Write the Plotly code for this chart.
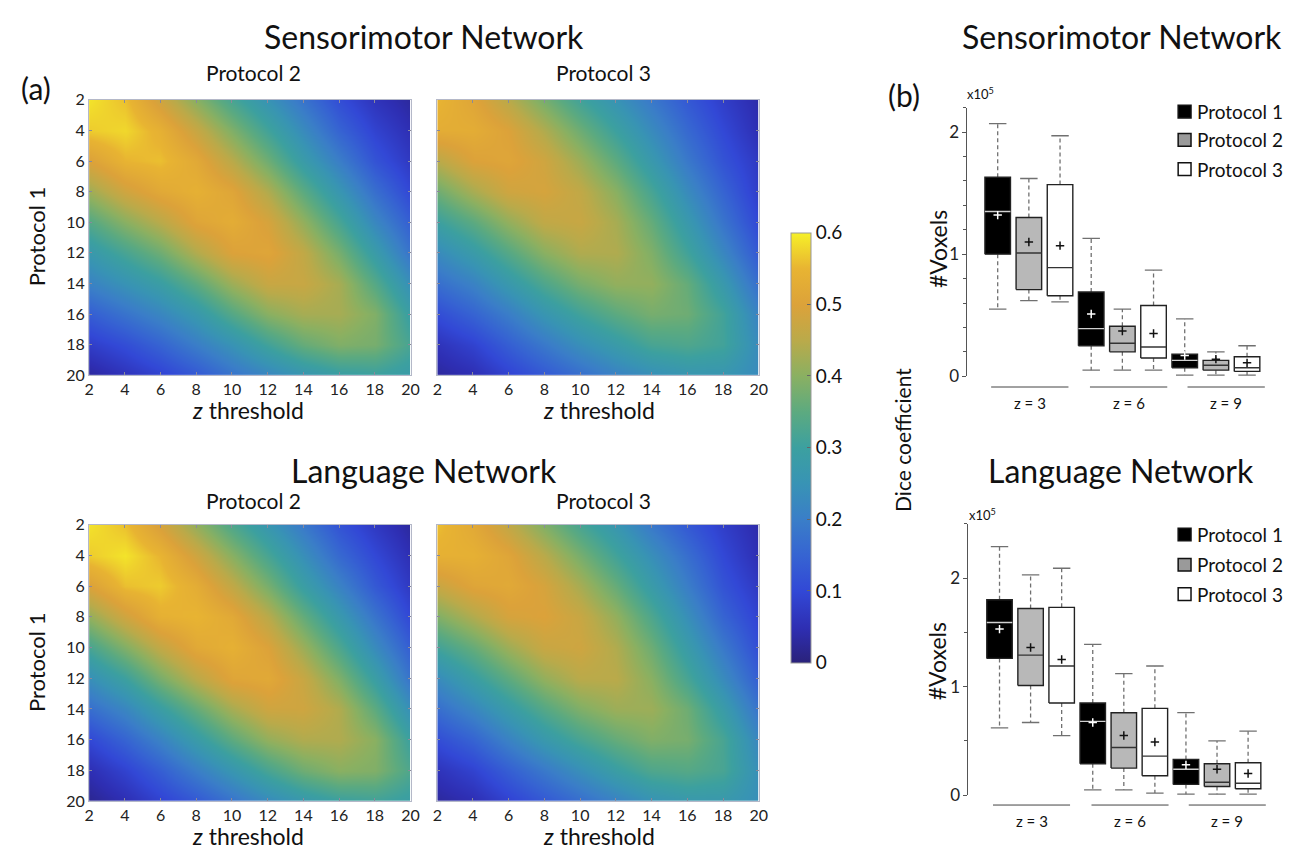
import plotly.graph_objects as go

# ---------------- DATA ----------------
thresholds = [2, 4, 6, 8, 10, 12, 14, 16, 18, 20]

# Dice coefficient, rows = Protocol 1 threshold, cols = z threshold
sm_p2 = [
    [0.59, 0.56, 0.48, 0.40, 0.32, 0.25, 0.18, 0.11, 0.06, 0.03],
    [0.57, 0.58, 0.54, 0.47, 0.39, 0.31, 0.23, 0.15, 0.09, 0.05],
    [0.50, 0.55, 0.56, 0.52, 0.45, 0.37, 0.28, 0.20, 0.12, 0.07],
    [0.42, 0.48, 0.52, 0.54, 0.51, 0.44, 0.35, 0.26, 0.17, 0.10],
    [0.34, 0.40, 0.45, 0.51, 0.53, 0.49, 0.41, 0.32, 0.22, 0.14],
    [0.27, 0.32, 0.37, 0.44, 0.50, 0.51, 0.46, 0.38, 0.28, 0.18],
    [0.21, 0.25, 0.29, 0.35, 0.42, 0.47, 0.47, 0.43, 0.34, 0.24],
    [0.14, 0.18, 0.22, 0.27, 0.34, 0.40, 0.43, 0.43, 0.39, 0.29],
    [0.08, 0.11, 0.15, 0.20, 0.25, 0.31, 0.36, 0.39, 0.38, 0.32],
    [0.03, 0.06, 0.09, 0.13, 0.18, 0.22, 0.26, 0.29, 0.30, 0.28],
]
sm_p3 = [
    [0.55, 0.51, 0.45, 0.38, 0.31, 0.25, 0.19, 0.13, 0.08, 0.04],
    [0.53, 0.53, 0.50, 0.44, 0.37, 0.30, 0.23, 0.16, 0.10, 0.05],
    [0.45, 0.50, 0.51, 0.48, 0.42, 0.35, 0.27, 0.19, 0.12, 0.07],
    [0.37, 0.43, 0.48, 0.49, 0.46, 0.40, 0.32, 0.23, 0.15, 0.08],
    [0.30, 0.35, 0.41, 0.46, 0.47, 0.43, 0.36, 0.27, 0.18, 0.10],
    [0.23, 0.28, 0.34, 0.40, 0.44, 0.44, 0.39, 0.31, 0.22, 0.13],
    [0.17, 0.21, 0.27, 0.33, 0.38, 0.41, 0.41, 0.36, 0.27, 0.17],
    [0.11, 0.15, 0.20, 0.26, 0.31, 0.35, 0.38, 0.37, 0.31, 0.21],
    [0.06, 0.09, 0.14, 0.19, 0.24, 0.28, 0.32, 0.33, 0.31, 0.23],
    [0.03, 0.05, 0.09, 0.13, 0.17, 0.21, 0.24, 0.26, 0.26, 0.23],
]
lang_p2 = [
    [0.59, 0.56, 0.49, 0.41, 0.33, 0.26, 0.19, 0.12, 0.07, 0.03],
    [0.57, 0.59, 0.55, 0.48, 0.40, 0.32, 0.24, 0.16, 0.10, 0.05],
    [0.50, 0.56, 0.57, 0.53, 0.46, 0.38, 0.29, 0.21, 0.13, 0.07],
    [0.41, 0.48, 0.54, 0.55, 0.52, 0.45, 0.36, 0.27, 0.18, 0.10],
    [0.32, 0.39, 0.46, 0.52, 0.54, 0.50, 0.42, 0.33, 0.23, 0.14],
    [0.24, 0.30, 0.38, 0.45, 0.51, 0.52, 0.47, 0.39, 0.29, 0.18],
    [0.17, 0.22, 0.29, 0.36, 0.43, 0.48, 0.48, 0.44, 0.35, 0.24],
    [0.10, 0.15, 0.21, 0.28, 0.35, 0.41, 0.44, 0.44, 0.40, 0.30],
    [0.05, 0.09, 0.14, 0.20, 0.26, 0.32, 0.37, 0.40, 0.39, 0.33],
    [0.02, 0.05, 0.09, 0.13, 0.18, 0.23, 0.27, 0.30, 0.31, 0.29],
]
lang_p3 = [
    [0.56, 0.52, 0.46, 0.39, 0.32, 0.26, 0.19, 0.13, 0.08, 0.04],
    [0.54, 0.54, 0.51, 0.45, 0.38, 0.31, 0.24, 0.17, 0.10, 0.05],
    [0.47, 0.51, 0.52, 0.49, 0.43, 0.36, 0.28, 0.20, 0.12, 0.07],
    [0.39, 0.44, 0.49, 0.50, 0.47, 0.41, 0.33, 0.24, 0.15, 0.09],
    [0.31, 0.36, 0.42, 0.47, 0.48, 0.44, 0.37, 0.28, 0.19, 0.11],
    [0.23, 0.29, 0.35, 0.41, 0.45, 0.45, 0.40, 0.32, 0.23, 0.14],
    [0.17, 0.22, 0.28, 0.34, 0.39, 0.42, 0.42, 0.37, 0.28, 0.18],
    [0.11, 0.15, 0.21, 0.27, 0.32, 0.36, 0.39, 0.38, 0.32, 0.22],
    [0.06, 0.09, 0.14, 0.19, 0.24, 0.29, 0.33, 0.34, 0.32, 0.24],
    [0.03, 0.05, 0.09, 0.13, 0.17, 0.21, 0.25, 0.27, 0.27, 0.24],
]

colorbar_ticks = [0, 0.1, 0.2, 0.3, 0.4, 0.5, 0.6]

groups = ["z = 3", "z = 6", "z = 9"]
protocols = ["Protocol 1", "Protocol 2", "Protocol 3"]

# Box statistics (x 10^5 voxels), ordered z=3 (P1,P2,P3), z=6 (...), z=9 (...)
sm_upper = [2.07, 1.62, 1.97, 1.13, 0.55, 0.87, 0.47, 0.20, 0.25]
sm_q3 = [1.63, 1.30, 1.57, 0.69, 0.41, 0.58, 0.18, 0.13, 0.16]
sm_median = [1.35, 1.01, 0.89, 0.39, 0.27, 0.24, 0.13, 0.09, 0.07]
sm_mean = [1.32, 1.10, 1.07, 0.51, 0.37, 0.35, 0.17, 0.14, 0.11]
sm_q1 = [1.00, 0.71, 0.66, 0.25, 0.20, 0.15, 0.07, 0.05, 0.04]
sm_lower = [0.55, 0.62, 0.61, 0.05, 0.05, 0.05, 0.01, 0.01, 0.01]

lang_upper = [2.29, 2.03, 2.09, 1.39, 1.12, 1.19, 0.76, 0.50, 0.59]
lang_q3 = [1.80, 1.72, 1.73, 0.85, 0.76, 0.80, 0.33, 0.29, 0.30]
lang_median = [1.59, 1.29, 1.19, 0.68, 0.44, 0.36, 0.24, 0.12, 0.11]
lang_mean = [1.53, 1.36, 1.25, 0.67, 0.55, 0.49, 0.28, 0.24, 0.20]
lang_q1 = [1.26, 1.01, 0.85, 0.29, 0.25, 0.18, 0.10, 0.08, 0.06]
lang_lower = [0.62, 0.67, 0.55, 0.05, 0.05, 0.02, 0.01, 0.01, 0.01]

sm_yticks = [0, 1, 2]
lang_yticks = [0, 1, 2]

# ---------------- STYLE ----------------
W, H = 1293, 858
FONT = "Lato"


def px(x):
    return x / W


def py(y):
    return 1 - y / H


parula_like = [
    [0.000, "rgb(42,34,122)"],
    [0.080, "rgb(46,46,178)"],
    [0.167, "rgb(50,72,214)"],
    [0.250, "rgb(54,100,210)"],
    [0.333, "rgb(58,126,200)"],
    [0.420, "rgb(56,148,180)"],
    [0.500, "rgb(60,160,160)"],
    [0.583, "rgb(92,170,128)"],
    [0.667, "rgb(138,176,98)"],
    [0.750, "rgb(186,170,74)"],
    [0.833, "rgb(220,162,58)"],
    [0.917, "rgb(232,180,50)"],
    [1.000, "rgb(246,240,40)"],
]

box_fill = ["#000000", "#b8b8b8", "#ffffff"]
median_col = ["#d0d0d0", "#333333", "#333333"]
mean_col = ["#ffffff", "#111111", "#111111"]
legend_fill = ["#000000", "#9a9a9a", "#ffffff"]

fig = go.Figure()

# ---------------- HEATMAPS ----------------
heat_panels = [
    (sm_p2, "x", "y"),
    (sm_p3, "x2", "y2"),
    (lang_p2, "x3", "y3"),
    (lang_p3, "x4", "y4"),
]
for mat, xa, ya in heat_panels:
    fig.add_trace(go.Heatmap(
        x=thresholds, y=thresholds, z=mat, coloraxis="coloraxis",
        zsmooth="best", xaxis=xa, yaxis=ya, hoverinfo="skip"))

heat_x_dom = [[px(85), px(410)], [px(437), px(762)]]
heat_y_dom = [[py(374), py(92)], [py(810), py(527)]]

axis_common = dict(showgrid=False, zeroline=False, showline=True, mirror="ticks",
                   linecolor="#b4b8c8", linewidth=1, ticks="inside", ticklen=3,
                   tickcolor="#8a8a9a", tickfont=dict(family=FONT, size=16, color="#222"))

layout_axes = {}
names = [("xaxis", "yaxis", "x", "y"), ("xaxis2", "yaxis2", "x2", "y2"),
         ("xaxis3", "yaxis3", "x3", "y3"), ("xaxis4", "yaxis4", "x4", "y4")]
for i, (xk, yk, xid, yid) in enumerate(names):
    col = i % 2
    row = i // 2
    layout_axes[xk] = dict(domain=heat_x_dom[col], anchor=yid, range=[2, 20],
                           tickvals=thresholds, **axis_common)
    layout_axes[yk] = dict(domain=heat_y_dom[row], anchor=xid, range=[20, 2],
                           tickvals=thresholds, showticklabels=(col == 0), **axis_common)

# ---------------- BOX PLOTS ----------------
def add_boxes(upper, q3, med, mean, q1, lower, xa, ya):
    w = 0.41
    c = 0.28
    for k in range(len(upper)):
        pos = k + 1
        p = k % 3
        fig.add_trace(go.Scatter(
            x=[pos, pos, None, pos, pos], y=[q3[k], upper[k], None, q1[k], lower[k]],
            mode="lines", line=dict(color="#707070", width=1.3, dash="4px,3px"),
            xaxis=xa, yaxis=ya, showlegend=False, hoverinfo="skip"))
        fig.add_trace(go.Scatter(
            x=[pos - c, pos + c, None, pos - c, pos + c],
            y=[upper[k], upper[k], None, lower[k], lower[k]],
            mode="lines", line=dict(color="#707070", width=1.3),
            xaxis=xa, yaxis=ya, showlegend=False, hoverinfo="skip"))
        fig.add_trace(go.Scatter(
            x=[pos - w, pos + w, pos + w, pos - w, pos - w],
            y=[q1[k], q1[k], q3[k], q3[k], q1[k]],
            mode="lines", fill="toself", fillcolor=box_fill[p],
            line=dict(color="#222222", width=1.4),
            xaxis=xa, yaxis=ya, showlegend=False, hoverinfo="skip"))
        fig.add_trace(go.Scatter(
            x=[pos - w, pos + w], y=[med[k], med[k]], mode="lines",
            line=dict(color=median_col[p], width=1.4),
            xaxis=xa, yaxis=ya, showlegend=False, hoverinfo="skip"))
        fig.add_trace(go.Scatter(
            x=[pos], y=[mean[k]], mode="markers",
            marker=dict(symbol="cross-thin", size=6, line=dict(color=mean_col[p], width=1.5)),
            xaxis=xa, yaxis=ya, showlegend=False, hoverinfo="skip"))


add_boxes(sm_upper, sm_q3, sm_median, sm_mean, sm_q1, sm_lower, "x5", "y5")
add_boxes(lang_upper, lang_q3, lang_median, lang_mean, lang_q1, lang_lower, "x6", "y6")

box_y_common = dict(showgrid=False, zeroline=False, showline=True, linecolor="#555",
                    linewidth=1, ticks="outside", ticklen=4, tickcolor="#555",
                    tickfont=dict(family=FONT, size=17, color="#222"))
layout_axes["xaxis5"] = dict(domain=[px(973), px(1290)], anchor="y5", range=[0.03, 10.09],
                             visible=False)
layout_axes["yaxis5"] = dict(domain=[py(375), py(100)], anchor="x5", range=[0, 2.2],
                             tickvals=sm_yticks,
                             minor=dict(dtick=0.2, tick0=0, ticks="outside", ticklen=3,
                                        tickcolor="#555", showgrid=False),
                             **box_y_common)
layout_axes["xaxis6"] = dict(domain=[px(974), px(1290)], anchor="y6", range=[0.0, 10.06],
                             visible=False)
layout_axes["yaxis6"] = dict(domain=[py(804), py(526)], anchor="x6", range=[0, 2.5],
                             tickvals=lang_yticks,
                             minor=dict(dtick=0.5, tick0=0, ticks="outside", ticklen=3,
                                        tickcolor="#555", showgrid=False),
                             **box_y_common)

# group labels and lines under the box plots
group_centers = [2.03, 5.2, 8.33]
shapes = []
annotations = []
for xa, ya, yline, ylab in [("x5", "y5", -0.04, -0.1), ("x6", "y6", -0.036, -0.093)]:
    for g, label in enumerate(groups):
        cx = group_centers[g]
        shapes.append(dict(type="line", xref=xa, yref=ya + " domain",
                           x0=cx - 1.24, x1=cx + 1.24, y0=yline, y1=yline,
                           line=dict(color="#444", width=1)))
        annotations.append(dict(text=label, xref=xa, yref=ya + " domain", x=cx, y=ylab,
                                xanchor="center", yanchor="middle", showarrow=False,
                                font=dict(family=FONT, size=15, color="#111")))


def ann(text, x, y, size, angle=0, xanchor="center"):
    annotations.append(dict(text=text, x=px(x), y=py(y), xref="paper", yref="paper",
                            showarrow=False, textangle=angle, xanchor=xanchor, yanchor="middle",
                            font=dict(family=FONT, size=size, color="#111")))


# manual legends (one per box panel)
for ys in ([104, 133, 163], [537, 568, 598]):
    for p, name in enumerate(protocols):
        yc = ys[p]
        shapes.append(dict(type="rect", xref="paper", yref="paper",
                           x0=px(1186), x1=px(1199), y0=py(yc + 6.5), y1=py(yc - 6.5),
                           fillcolor=legend_fill[p], line=dict(color="#111", width=1.5)))
        ann(name, 1203, yc, 19, xanchor="left")

ann("Sensorimotor Network", 424, 27, 32)
ann("Language Network", 424, 472, 32)
ann("Sensorimotor Network", 1129, 27, 32)
ann("Language Network", 1128, 472, 32)
ann("(a)", 31, 80, 30)
ann("(b)", 909, 87, 30)
ann("Protocol 2", 251, 64, 21)
ann("Protocol 3", 605, 64, 21)
ann("Protocol 2", 251, 502, 21)
ann("Protocol 3", 605, 502, 21)
ann("Protocol 1", 32, 232, 22, -90)
ann("Protocol 1", 32, 668, 22, -90)
ann("<i>z</i> threshold", 246, 410, 23)
ann("<i>z</i> threshold", 600, 410, 23)
ann("<i>z</i> threshold", 246, 846, 23)
ann("<i>z</i> threshold", 600, 846, 23)
ann("Dice coefficient", 908, 440, 21, -90)
ann("#Voxels", 943, 245, 23, -90)
ann("#Voxels", 943, 667, 23, -90)
ann("x10<sup>5</sup>", 986, 86, 13)
ann("x10<sup>5</sup>", 988, 517, 13)

fig.update_layout(
    width=W, height=H,
    margin=dict(l=0, r=0, t=0, b=0),
    paper_bgcolor="white", plot_bgcolor="white",
    font=dict(family=FONT, color="#111"),
    showlegend=False,
    coloraxis=dict(
        cmin=0, cmax=0.6, colorscale=parula_like,
        colorbar=dict(x=px(795), xanchor="left", xpad=0, ypad=0,
                      y=py(448), yanchor="middle", len=430, lenmode="pixels",
                      thickness=20, outlinewidth=1, outlinecolor="#999",
                      tickvals=colorbar_ticks, ticks="inside", ticklen=4, tickcolor="#666",
                      tickfont=dict(family=FONT, size=19, color="#111"))),
    shapes=shapes,
    annotations=annotations,
    **layout_axes,
)

fig.write_html("out.html", config={"displayModeBar": False},
               post_script="document.body.style.margin='0px';document.body.style.overflow='hidden';")
